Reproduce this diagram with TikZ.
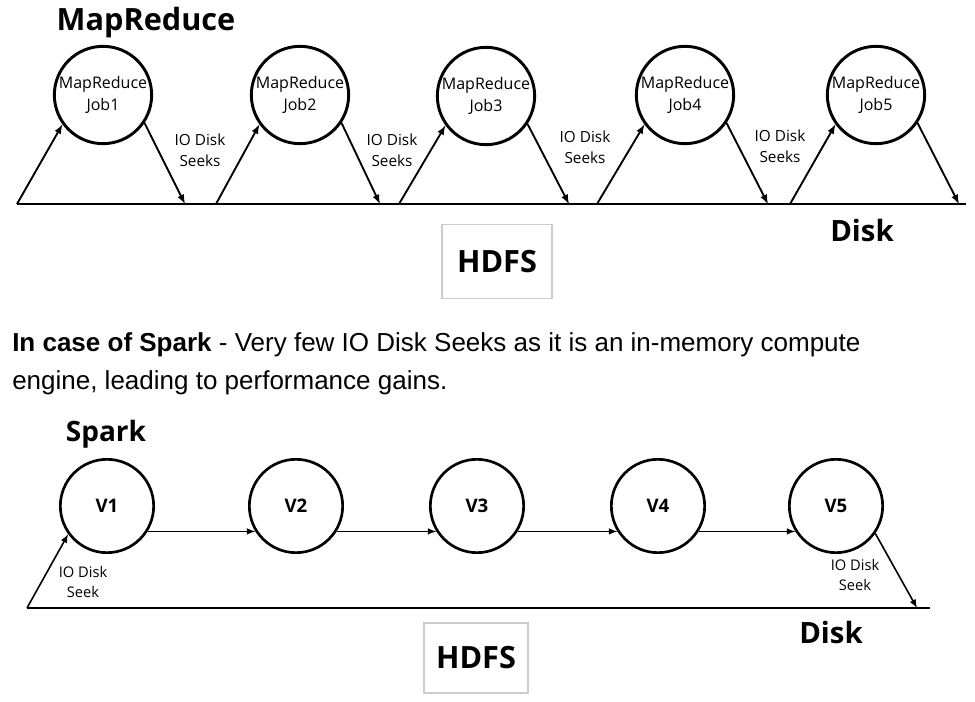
\documentclass[tikz,border=0pt]{standalone}
\usepackage{fontspec}
\setmainfont{Open Sans}
\newfontfamily\notefont{Liberation Sans}
\usetikzlibrary{arrows}

\begin{document}
\begin{tikzpicture}[x=0.75pt, y=-0.75pt,
                   job/.style={circle, draw, line width=2.2pt, minimum size=73pt, inner sep=0pt, align=center, font=\fontsize{12}{16}\selectfont},
                   vert/.style={circle, draw, line width=2pt, minimum size=70pt, inner sep=0pt, font=\bfseries\fontsize{14}{16}\selectfont},
                   seek/.style={align=center, inner sep=0pt, font=\fontsize{11.5}{16}\selectfont},
                   title/.style={font=\bfseries\fontsize{23}{28}\selectfont},
                   hdfs/.style={draw=gray!40, line width=0.8pt, font=\bfseries\fontsize{23}{28}\selectfont},
                   io/.style={-latex, line width=1.4pt}]

\useasboundingbox (0,0) rectangle (975,702);

% MapReduce part
\node[title] (mr) at (146,23) {MapReduce};

\node[job] (job1) at (103,95) {MapReduce\\Job1};
\node[job] (job2) at (300,95) {MapReduce\\Job2};
\node[job] (job3) at (486,96) {MapReduce\\Job3};
\node[job] (job4) at (685,95) {MapReduce\\Job4};
\node[job] (job5) at (876,95) {MapReduce\\Job5};

\coordinate (l1) at (17,204);
\coordinate (r1) at (966,204);
\coordinate (u2) at (216,204);
\coordinate (u3) at (399,204);
\coordinate (u4) at (597,204);
\coordinate (u5) at (790,204);
\coordinate (d1) at (185,204);
\coordinate (d2) at (380,204);
\coordinate (d3) at (569,204);
\coordinate (d4) at (768,204);
\coordinate (d5) at (959,204);

\draw[line width=1.4pt] (l1) -- (r1);

\draw[io] (l1) -- (job1.216);
\draw[io] (job1.-34) -- (d1);
\draw[io] (u2) -- (job2.216);
\draw[io] (job2.-34) -- (d2);
\draw[io] (u3) -- (job3.216);
\draw[io] (job3.-34) -- (d3);
\draw[io] (u4) -- (job4.216);
\draw[io] (job4.-34) -- (d4);
\draw[io] (u5) -- (job5.216);
\draw[io] (job5.-34) -- (d5);

\node[seek] (s1) at (200,150) {IO Disk\\Seeks};
\node[seek] (s2) at (392,150) {IO Disk\\Seeks};
\node[seek] (s3) at (585,147) {IO Disk\\Seeks};
\node[seek] (s4) at (780,146) {IO Disk\\Seeks};

\node[title, font=\bfseries\fontsize{22}{28}\selectfont] (disk1) at (862,231) {Disk};
\node[hdfs, minimum width=82.5pt, minimum height=55pt] (hdfs1) at (497,261.5) {HDFS};

% note
\node[anchor=base west, inner sep=0pt, font=\notefont\fontsize{19.5}{24}\selectfont] (note1) at (12,352) {\textbf{In case of Spark} - Very few IO Disk Seeks as it is an in-memory compute};
\node[anchor=base west, inner sep=0pt, font=\notefont\fontsize{19.5}{24}\selectfont] (note2) at (12,389) {engine, leading to performance gains.};

% Spark part
\node[title, font=\bfseries\fontsize{21}{28}\selectfont] (spark) at (106,434) {Spark};

\node[vert] (v1) at (107,506) {V1};
\node[vert] (v2) at (296,506) {V2};
\node[vert] (v3) at (477,506) {V3};
\node[vert] (v4) at (658,506) {V4};
\node[vert] (v5) at (836,506) {V5};

\coordinate (l2) at (27,608);
\coordinate (r2) at (930,608);
\coordinate (d6) at (917,608);

\draw[line width=1.1pt] (l2) -- (r2);

\draw[io, line width=1.2pt] (l2) -- (v1.216);
\draw[io, line width=1.2pt] (v1.-32) -- (v2.212);
\draw[io, line width=1.2pt] (v2.-32) -- (v3.212);
\draw[io, line width=1.2pt] (v3.-32) -- (v4.212);
\draw[io, line width=1.2pt] (v4.-32) -- (v5.212);
\draw[io, line width=1.2pt] (v5.-35) -- (d6);

\node[seek, font=\fontsize{11}{15}\selectfont] (s5) at (83,582) {IO Disk\\Seek};
\node[seek, font=\fontsize{11}{15}\selectfont] (s6) at (855,575) {IO Disk\\Seek};

\node[title, font=\bfseries\fontsize{22}{28}\selectfont] (disk2) at (831,632) {Disk};
\node[hdfs, minimum width=78pt, minimum height=52.5pt] (hdfs2) at (476,658) {HDFS};

\end{tikzpicture}
\end{document}
